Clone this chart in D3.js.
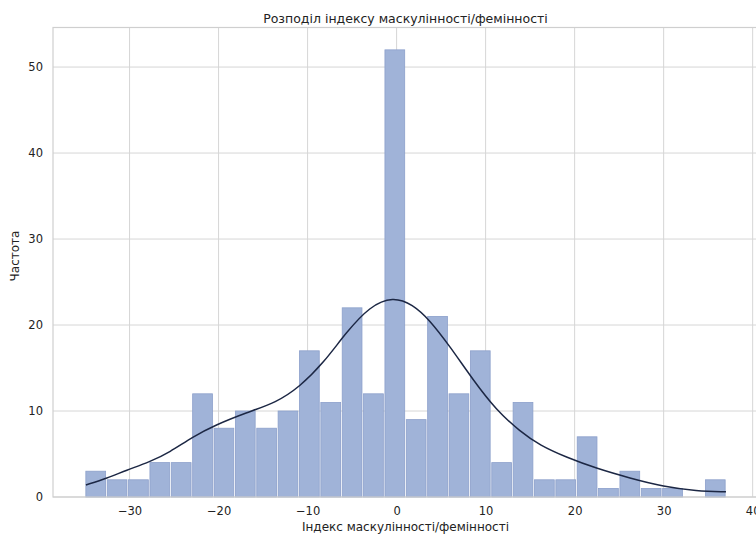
<!DOCTYPE html>
<html>
<head>
<meta charset="utf-8">
<script src="https://cdn.jsdelivr.net/npm/d3@7"></script>
<style>
  html, body { margin: 0; padding: 0; background: #fff; }
  svg { display: block; }
  text { font-family: "DejaVu Sans", sans-serif; fill: #222; }
</style>
</head>
<body>
<svg id="chart" width="756" height="534"></svg>
<script>
// ---- data ----
const title = "Розподіл індексу маскулінності/фемінності";
const xLabel = "Індекс маскулінності/фемінності";
const yLabel = "Частота";
const dataMin = -35;
const dataMax = 37;
const counts = [3, 2, 2, 4, 4, 12, 8, 10, 8, 10, 17, 11, 22, 12, 52, 9, 21, 12, 17, 4, 11, 2, 2, 7, 1, 3, 1, 1, 0, 2];
const kdeX = [-34.9, -32.5, -30.4, -27.7, -25.5, -22.9, -20.3, -16.9, -13.5, -10.9, -8.2, -5.7, -3.0, -0.4, 1.8, 3.7, 6.0, 8.6, 11.2, 13.9, 16.1, 19.1, 22.5, 26.2, 30.0, 33.7, 37.0];
const kdeY = [1.4, 2.2, 3.1, 4.1, 5.2, 7.0, 8.4, 9.8, 11.0, 12.8, 15.6, 19.1, 22.2, 23.3, 22.4, 20.6, 17.5, 13.6, 10.1, 7.6, 6.0, 4.6, 3.3, 2.2, 1.2, 0.7, 0.6];
const xTicks = [-30, -20, -10, 0, 10, 20, 30, 40];
const yTicks = [0, 10, 20, 30, 40, 50];

(function () {
// ---- layout ----
const svg = d3.select("#chart");
const pL = 53, pR = 758, pT = 27.5, pB = 497;
const nb = counts.length;
const bw = (dataMax - dataMin) / nb;
const bins = counts.map((c, i) => ({x0: dataMin + i * bw, x1: dataMin + (i + 1) * bw, c}));
const pad = (dataMax - dataMin) * 0.05;
const x = d3.scaleLinear().domain([dataMin - pad, dataMax + pad]).range([pL, pR]);
const yMax = d3.max(counts) * 1.05;
const y = d3.scaleLinear().domain([0, yMax]).range([pB, pT]);

// grid
const g = svg.append("g");
g.selectAll("line.gx").data(xTicks).join("line")
  .attr("x1", d => x(d)).attr("x2", d => x(d))
  .attr("y1", pT).attr("y2", pB)
  .attr("stroke", "#d6d6d6").attr("stroke-width", 1);
g.selectAll("line.gy").data(yTicks).join("line")
  .attr("x1", pL).attr("x2", pR)
  .attr("y1", d => y(d)).attr("y2", d => y(d))
  .attr("stroke", "#d6d6d6").attr("stroke-width", 1);

// bars
svg.append("g").selectAll("rect").data(bins.filter(b => b.c > 0)).join("rect")
  .attr("x", d => x(d.x0) + 0.8)
  .attr("width", d => x(d.x1) - x(d.x0) - 1.6)
  .attr("y", d => y(d.c))
  .attr("height", d => y(0) - y(d.c))
  .attr("fill", "#a0b3d8")
  .attr("stroke", "#8ca0cb")
  .attr("stroke-width", 0.8);

// kde line
const line = d3.line().x((d, i) => x(kdeX[i])).y(d => y(d)).curve(d3.curveBasis);
svg.append("path").datum(kdeY).attr("d", line)
  .attr("fill", "none").attr("stroke", "#1c2744").attr("stroke-width", 1.5);

// spines
svg.append("rect").attr("x", pL).attr("y", pT).attr("width", pR - pL).attr("height", pB - pT)
  .attr("fill", "none").attr("stroke", "#cfcfcf").attr("stroke-width", 1.2);

// axes (labels only, no tick marks)
const xAxis = d3.axisBottom(x).tickValues(xTicks).tickSize(0).tickPadding(10)
  .tickFormat(d => d < 0 ? "\u2212" + Math.abs(d) : d);
const xa = svg.append("g").attr("transform", `translate(0,${pB})`).call(xAxis);
xa.select(".domain").remove();
xa.selectAll("text").attr("font-size", 11.5).attr("font-family", "DejaVu Sans").attr("fill", "#222");

const yAxis = d3.axisLeft(y).tickValues(yTicks).tickSize(0).tickPadding(10);
const ya = svg.append("g").attr("transform", `translate(${pL},0)`).call(yAxis);
ya.select(".domain").remove();
ya.selectAll("text").attr("font-size", 11.5).attr("font-family", "DejaVu Sans").attr("fill", "#222");

// labels
svg.append("text").attr("x", (pL + pR) / 2).attr("y", 23)
  .attr("text-anchor", "middle").attr("font-size", 12.5).text(title);
svg.append("text").attr("x", (pL + pR) / 2).attr("y", 531)
  .attr("text-anchor", "middle").attr("font-size", 12).text(xLabel);
svg.append("text").attr("transform", `translate(19,256) rotate(-90)`)
  .attr("text-anchor", "middle").attr("font-size", 12).text(yLabel);
})();
</script>
</body>
</html>
